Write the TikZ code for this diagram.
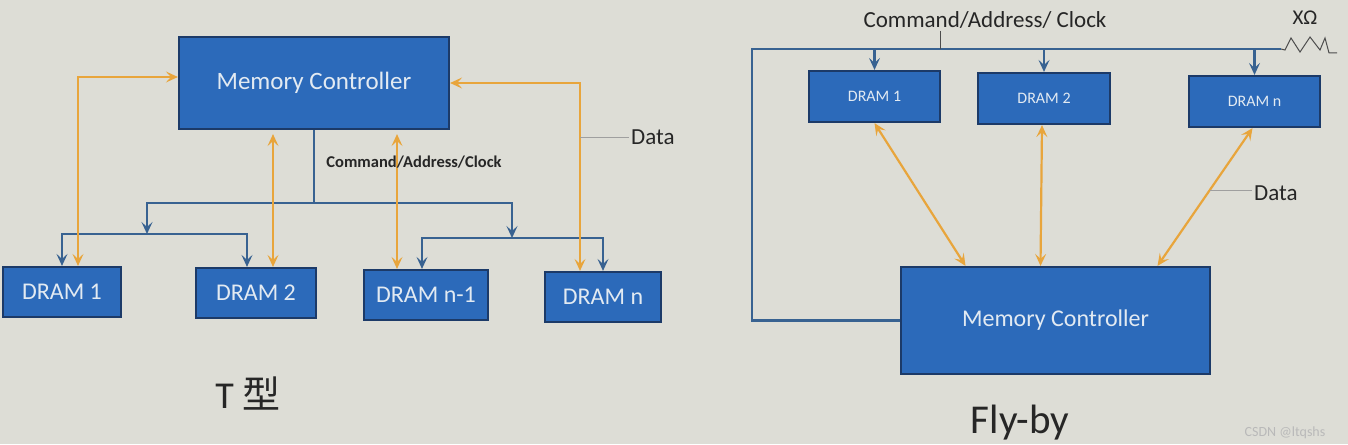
\documentclass[tikz,border=0pt]{standalone}
\usepackage{fontspec}
\setmainfont{Carlito}
\newfontfamily\cjk{Noto Sans CJK SC}
\usetikzlibrary{arrows.meta,calc}
\definecolor{bg}{RGB}{221,221,214}
\definecolor{boxblue}{RGB}{44,106,186}
\definecolor{boxedge}{RGB}{28,58,104}
\definecolor{cmdblue}{RGB}{56,98,145}
\definecolor{dataorange}{RGB}{232,165,60}
\definecolor{boxtext}{RGB}{226,234,242}
\begin{document}
\begin{tikzpicture}[x=1pt,y=-1pt,
  box/.style={draw=boxedge, line width=2.2pt, fill=boxblue, text=boxtext, inner sep=0pt, anchor=center},
  cmd/.style={draw=cmdblue, line width=2.6pt},
  cmdarrow/.style={cmd, -{Stealth[length=12pt,width=11pt,inset=5pt]}},
  data/.style={draw=dataorange, line width=2.2pt, {Stealth[length=12pt,width=11pt,inset=5pt]}-{Stealth[length=12pt,width=11pt,inset=5pt]}},
  leader/.style={draw=gray!75, line width=0.8pt},
  lbl/.style={inner sep=0pt, text=black!85},
]
\fill[bg] (0,0) rectangle (1348,444);
\useasboundingbox (0,0) rectangle (1348,444);

% ---------- T topology ----------
\node[box, minimum width=270pt, minimum height=92pt, font=\fontsize{25}{29}\selectfont] (mcL) at (314,83) {Memory Controller};
\node[box, minimum width=118pt, minimum height=50pt, font=\fontsize{24}{28}\selectfont] (d1L) at (62,292) {DRAM 1};
\node[box, minimum width=120pt, minimum height=50pt, font=\fontsize{24}{28}\selectfont] (d2L) at (256,293) {DRAM 2};
\node[box, minimum width=124pt, minimum height=50pt, font=\fontsize{24}{28}\selectfont] (d3L) at (426,295) {DRAM n-1};
\node[box, minimum width=116pt, minimum height=50pt, font=\fontsize{24}{28}\selectfont] (d4L) at (603,297) {DRAM n};

\coordinate (t0) at (314,203);
\coordinate (bL) at (147,234);
\coordinate (bR) at (512,238);
\draw[cmd] (mcL.south) -- (t0);
\draw[cmdarrow] (t0) -| (bL);
\draw[cmdarrow] (t0) -| (bR);
\draw[cmdarrow] (bL) -| (d1L.north);
\draw[cmdarrow] (bL) -| ([xshift=-9pt]d2L.north);
\draw[cmdarrow] (bR) -| ([xshift=-4pt]d3L.north);
\draw[cmdarrow] (bR) -| (d4L.north);

\coordinate (o1) at ([xshift=16pt]d1L.north);
\coordinate (o2) at ([xshift=17pt]d2L.north);
\coordinate (o3) at ([xshift=-29pt]d3L.north);
\coordinate (o4) at ([xshift=-23pt]d4L.north);
\draw[data] (o1) |- ([yshift=6pt]mcL.west);
\draw[data, shorten >=4pt] (o2) -- (o2 |- mcL.south);
\draw[data, shorten >=4pt] (o3) -- (o3 |- mcL.south);
\draw[data] (o4) |- (mcL.east);

\node[lbl, anchor=west, font=\fontsize{23}{27}\selectfont] (dataL) at (631,137) {Data};
\draw[leader, shorten >=2pt] (o4 |- dataL.west) -- (dataL.west);

\node[lbl, font=\fontsize{16.5}{19}\selectfont\bfseries] (cmdL) at (414,162) {Command/Address/Clock};
\node[lbl, font=\fontsize{38}{42}\selectfont] (tL) at (248,394) {T {\cjk 型}};

% ---------- Fly-by topology ----------
\node[box, minimum width=131pt, minimum height=51pt, font=\fontsize{16}{19}\selectfont] (d1R) at (874.5,96.5) {DRAM 1};
\node[box, minimum width=132pt, minimum height=51pt, font=\fontsize{16}{19}\selectfont] (d2R) at (1044,98.5) {DRAM 2};
\node[box, minimum width=131pt, minimum height=51pt, font=\fontsize{16}{19}\selectfont] (d3R) at (1254.5,101.5) {DRAM n};
\node[box, minimum width=309pt, minimum height=107pt, font=\fontsize{24}{28}\selectfont] (mcR) at (1055.5,320.5) {Memory Controller};

\coordinate (busL) at (752,49);
\coordinate (busR) at (1281,49);
\draw[cmd, line width=2.2pt] (mcR.west) -| (busL) -- (busR);
\draw[draw=gray!60!black, line width=1pt] (busR) -- (1285,50) -- (1291,38) -- (1300,52) -- (1310,37) -- (1320,50) -- (1325,38) -- (1329,53) -- (1337,53);

\draw[cmdarrow] (d1R.north |- busL) -- (d1R.north);
\draw[cmdarrow] (d2R.north |- busL) -- (d2R.north);
\draw[cmdarrow] (d3R.north |- busL) -- (d3R.north);

\draw[data] (d1R.south) -- ([xshift=-90pt]mcR.north);
\draw[data] ([xshift=-2pt]d2R.south) -- ([xshift=-15pt]mcR.north);
\draw[data] ([xshift=-2pt]d3R.south) -- coordinate[pos=0.45] (dj) ([xshift=102pt]mcR.north);

\node[lbl, anchor=west, font=\fontsize{23}{27}\selectfont] (dataR) at (1254,193) {Data};
\draw[leader, shorten >=2pt] (dj) -- (dj -| dataR.west);

\node[lbl, font=\fontsize{23}{27}\selectfont] (cmdR) at (985,20) {Command/Address/ Clock};
\coordinate (tk) at (940,31);
\draw[leader, draw=gray!60!black] (tk) -- (tk |- busL);
\node[lbl, font=\fontsize{21}{25}\selectfont] (xo) at (1305,18) {XΩ};
\node[lbl, font=\fontsize{41}{45}\selectfont] (fly) at (1020,423) {Fly-by};
\node[lbl, font=\fontsize{14}{16}\selectfont, text=gray!55] (wm) at (1285,433) {CSDN @ltqshs};
\end{tikzpicture}
\end{document}
